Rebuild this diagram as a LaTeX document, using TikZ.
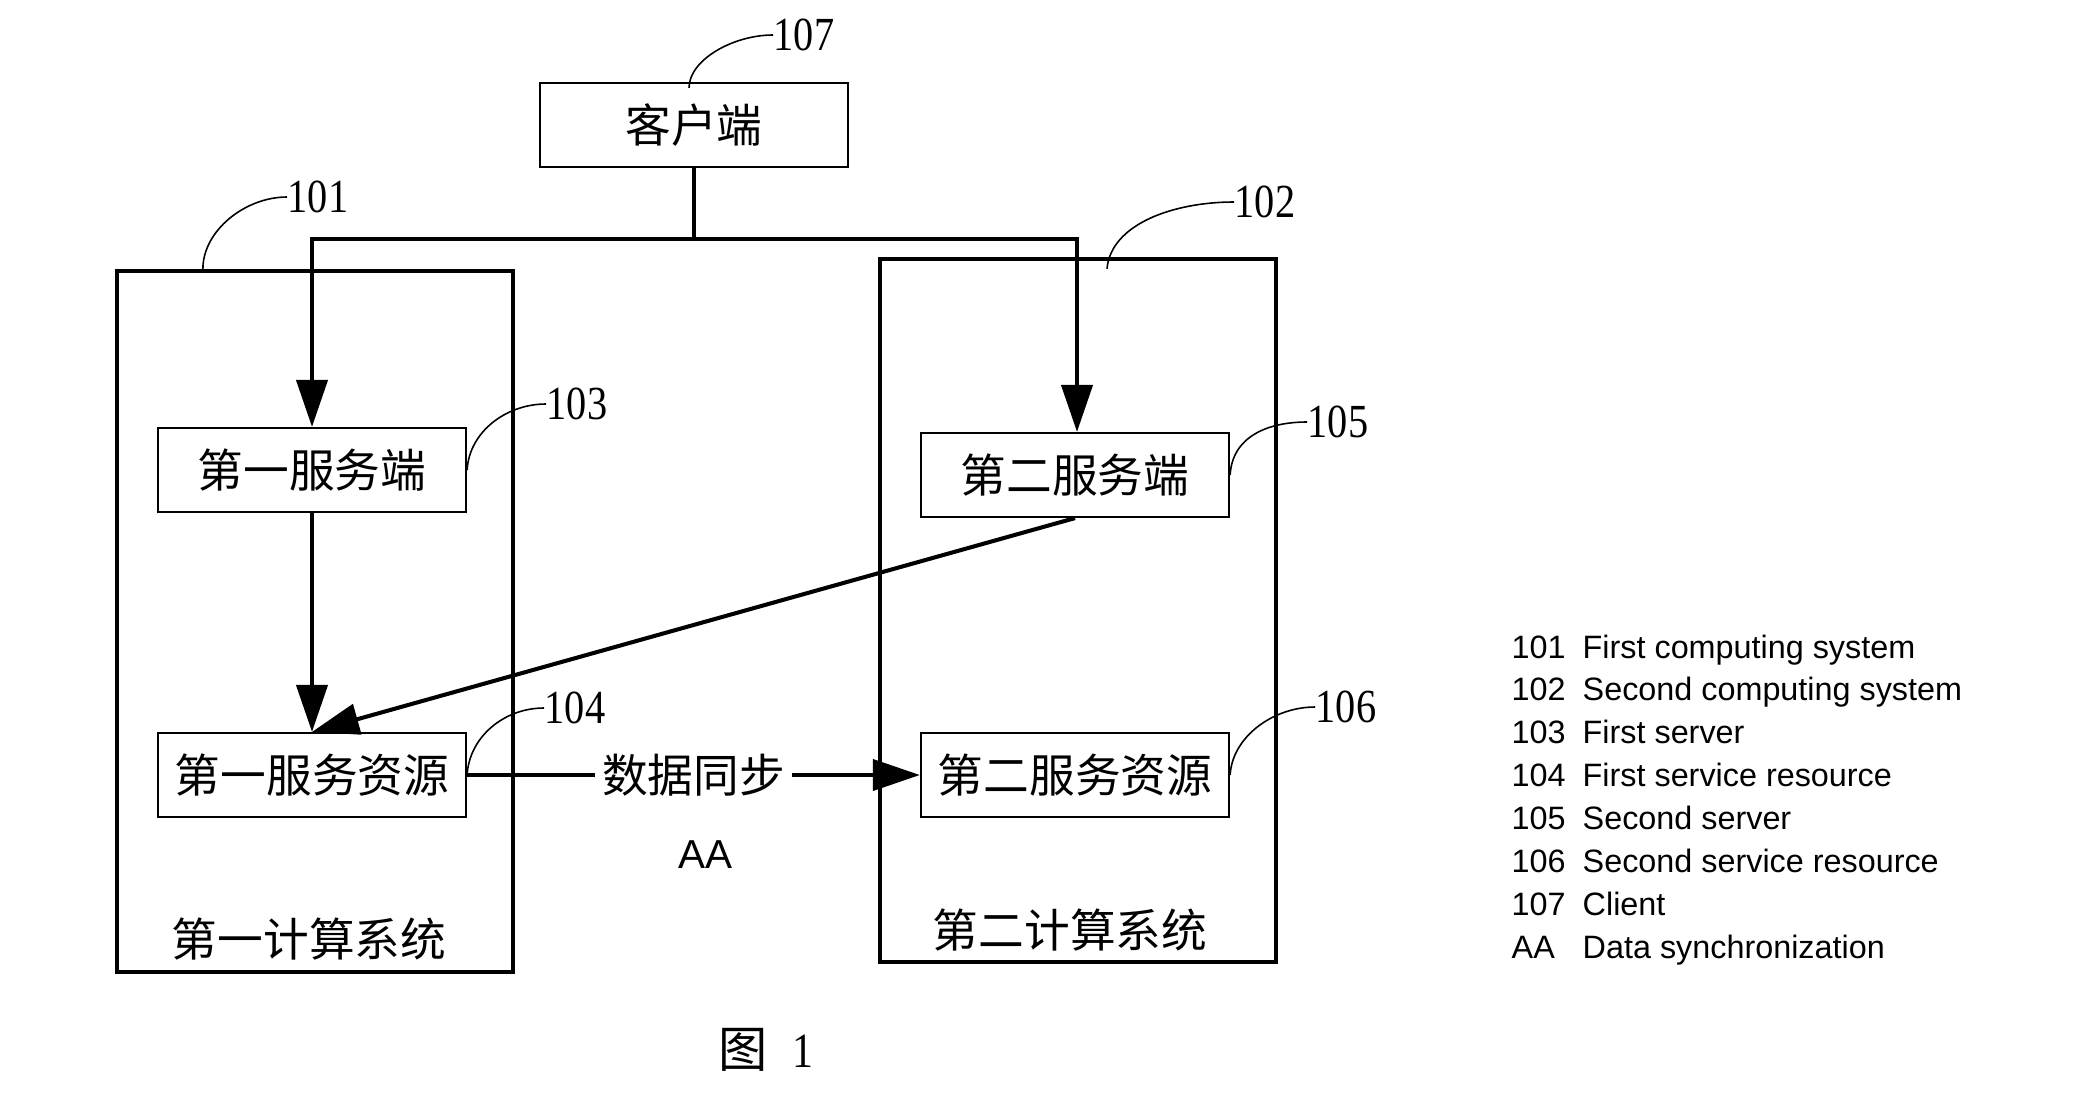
\documentclass[tikz,border=0pt]{standalone}
\usepackage{fontspec}
\setmainfont{Liberation Serif}
\newfontfamily\cjk{Noto Sans CJK SC}
\newfontfamily\numfont[FakeStretch=0.85]{Liberation Serif}
\newfontfamily\legfont{Liberation Sans}
\usetikzlibrary{arrows.meta,positioning,calc}

\begin{document}
\begin{tikzpicture}[x=0.01cm, y=-0.01cm,
  sysbox/.style={draw, line width=1.15pt, inner sep=0},
  unitbox/.style={draw, line width=0.6pt, inner sep=0, minimum width=3.08cm, minimum height=0.84cm, font=\cjk\fontsize{13}{13}\selectfont},
  cjktext/.style={inner sep=0, font=\cjk\fontsize{13}{13}\selectfont},
  numlbl/.style={inner sep=0, anchor=west, font=\numfont\fontsize{13.5}{14}\selectfont},
  leader/.style={line width=0.45pt},
  wire/.style={line width=1.15pt},
  arr/.style={line width=1.15pt, -{Triangle[length=0.47cm, width=0.31cm]}},
  legtxt/.style={inner sep=0, anchor=base west, font=\legfont\fontsize{9.2}{10}\selectfont}]

\useasboundingbox (0,0) rectangle (2097,1118);

% client
\node[unitbox] (client) at (694,125) {客户端};
\node[numlbl] (l107) at (773,35) {107};
\draw[leader] ([xshift=-0.05cm, yshift=-0.06cm]client.north) .. controls +(0,-28) and +(-40,0) .. (l107.west);

% computing systems
\node[sysbox, minimum width=3.96cm, minimum height=7.01cm] (sys1) at (315,621.5) {};
\node[sysbox, minimum width=3.96cm, minimum height=7.03cm] (sys2) at (1078,610.5) {};
\node[cjktext] (sys1lbl) at (309,939) {第一计算系统};
\node[cjktext] (sys2lbl) at (1070,930) {第二计算系统};
\node[numlbl] (l101) at (287,197) {101};
\node[numlbl] (l102) at (1234,202) {102};
\draw[leader] ([xshift=0.88cm]sys1.north west) .. controls +(0,-38) and +(-42,0) .. (l101.west);
\draw[leader] ([xshift=2.29cm, yshift=-0.12cm]sys2.north west) .. controls +(4,-45) and +(-60,0) .. (l102.west);

% servers and resources
\node[unitbox] (srv1) at (312,470) {第一服务端};
\node[unitbox] (srv2) at (1075,475) {第二服务端};
\node[unitbox] (res1) at (312,775) {第一服务资源};
\node[unitbox] (res2) at (1075,775) {第二服务资源};

\node[numlbl] (l103) at (546,404) {103};
\node[numlbl] (l104) at (544,708) {104};
\node[numlbl] (l105) at (1307,422) {105};
\node[numlbl] (l106) at (1315,707) {106};
\draw[leader] (srv1.east) .. controls +(2,-38) and +(-40,0) .. (l103.west);
\draw[leader] (res1.east) .. controls +(2,-38) and +(-40,0) .. (l104.west);
\draw[leader] (srv2.east) .. controls +(2,-38) and +(-40,0) .. (l105.west);
\draw[leader] (res2.east) .. controls +(2,-38) and +(-42,0) .. (l106.west);

% connectors
\coordinate (split) at (694,239);
\draw[wire] (client.south) -- (split);
\draw[arr] (split) -| (srv1.north);
\draw[arr] (split) -| ([xshift=0.02cm]srv2.north);
\draw[arr] (srv1.south) -- (res1.north);
\draw[arr] (srv2.south) -- (res1.north);
\draw[arr] (res1.east) -- node[cjktext, fill=white, inner xsep=2pt] (sync) {数据同步} (res2.west);
\node[font=\legfont\fontsize{11.5}{12}\selectfont] (aa) at (705,855) {AA};

\node[cjktext, font=\cjk\fontsize{14}{14}\selectfont] (fig) at (766,1050) {图\hspace{0.25cm}{\numfont 1}};

% legend
\foreach \num/\txt [count=\i from 0] in {101/First computing system, 102/Second computing system,
    103/First server, 104/First service resource, 105/Second server,
    106/Second service resource, 107/Client, AA/Data synchronization}{
  \node[legtxt] (legn\i) at (1511,{658+42.86*\i}) {\num};
  \node[legtxt] (legt\i) at (1582,{658+42.86*\i}) {\txt};
}

\end{tikzpicture}
\end{document}
